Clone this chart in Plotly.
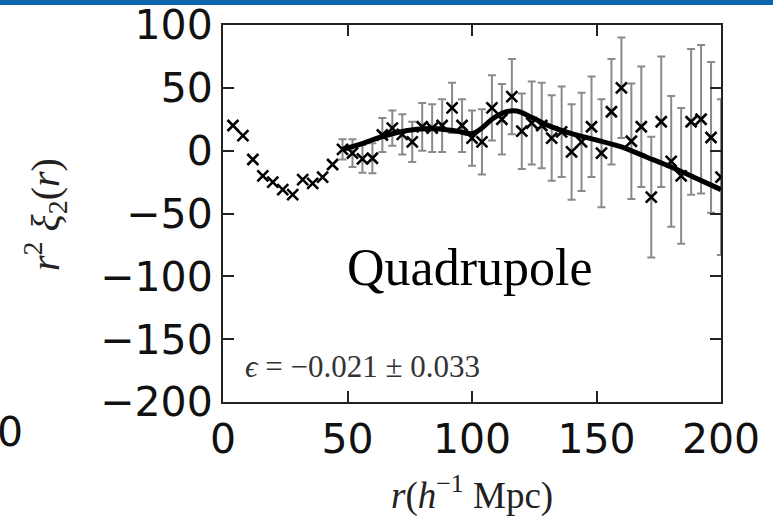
"""Quadrupole correlation function r^2 xi_2(r) with model curve"""
import plotly.graph_objects as go

# points at small r (drawn without error bars)
r_small = [4, 8, 12, 16, 20, 24, 28, 32, 36, 40, 44]
xi_small = [20, 12, -7, -20, -25, -31, -35, -23, -26, -21, -11]

# points with error bars
r_pts = [48, 52, 56, 60, 64, 68, 72, 76, 80, 84, 88, 92, 96, 100, 104, 108, 112,
         116, 120, 124, 128, 132, 136, 140, 144, 148, 152, 156, 160, 164, 168,
         172, 176, 180, 184, 188, 192, 196, 200]
xi_pts = [1, -2, -6.5, -6, 12.5, 18, 13, 7, 19, 18, 20, 34, 20, 10, 7, 34, 25,
          43, 15.5, 22, 20, 10, 15, -1, 7, 19, -2, 31, 50, 7.5, 19,
          -37, 23, -8.5, -20, 23, 25, 10.5, -21]
xi_err = [8, 11, 11, 12, 13.5, 14, 16, 16, 19, 19, 21, 20, 21, 22, 26, 26, 28,
          30, 30, 33, 34, 34, 36, 38, 39, 40, 43, 42, 40, 46, 48,
          48, 52, 52, 54, 58, 59, 60, 62]

# model curve
r_model = [48, 55, 62, 70, 78, 86, 94, 100, 104, 108, 113, 118, 124, 130, 140,
           150, 160, 170, 180, 190, 200]
xi_model = [1, 5, 10, 14.5, 17, 17.5, 15.5, 13.5, 18, 25, 30.5, 31.5, 26.5, 20.5, 13.5,
            8.5, 3, -5, -13, -22, -31]

x_ticks = [0, 50, 100, 150, 200]
y_ticks = [-200, -150, -100, -50, 0, 50, 100]

W, H = 773, 517
L, R, T, B = 223, 52, 25, 115
PW, PH = W - L - R, H - T - B

marker = dict(symbol="x-thin", size=11, color="black",
              line=dict(color="black", width=2.6))

fig = go.Figure()
fig.add_trace(go.Scatter(x=r_small, y=xi_small, mode="markers", marker=marker))
fig.add_trace(go.Scatter(
    x=r_pts, y=xi_pts, mode="markers", marker=marker,
    error_y=dict(type="data", array=xi_err, visible=True,
                 color="#8a8a8a", thickness=2, width=4),
))
fig.add_trace(go.Scatter(x=r_model, y=xi_model, mode="lines",
                         line=dict(color="black", width=5, shape="spline", smoothing=0.8)))

axis_common = dict(
    showline=True, linecolor="#222", linewidth=2, mirror="allticks",
    ticks="inside", ticklen=11, tickwidth=1.5, tickcolor="#222",
    showgrid=False, zeroline=False, automargin=False,
    tickfont=dict(family="DejaVu Sans", size=41, color="#111"),
)
fig.update_xaxes(range=[0, 200], tickvals=x_ticks, **axis_common)
fig.update_yaxes(range=[-200, 100], tickvals=y_ticks, **axis_common)

# axis titles placed as annotations
fig.add_annotation(xref="paper", yref="paper", x=0.5, y=-(493 - T - PH) / PH,
                   text="<i>r</i>(<i>h</i><sup>−1</sup> Mpc)", showarrow=False,
                   xanchor="center", yanchor="middle",
                   font=dict(family="Liberation Serif", size=37, color="#222"))
fig.add_annotation(xref="paper", yref="paper", x=-(L - 45) / PW, y=1 - (215 - T) / PH,
                   text="<i>r</i><sup>2</sup> <i>ξ</i><sub>2</sub>(<i>r</i>)", showarrow=False,
                   textangle=-90, xanchor="center", yanchor="middle",
                   font=dict(family="Liberation Serif", size=40, color="#222"))

# slide header band and cropped neighbour label
fig.add_shape(type="rect", xref="paper", yref="paper",
              x0=-L / PW, x1=(W - L) / PW,
              y0=1 + (T - 5) / PH, y1=1 + T / PH,
              fillcolor="#0a66ae", line_width=0, layer="above")
fig.add_annotation(xref="paper", yref="paper", x=-(L - 10) / PW, y=-30 / PH,
                   text="0", showarrow=False, xanchor="center", yanchor="middle",
                   font=dict(family="DejaVu Sans", size=41, color="#111"))

fig.add_annotation(x=99, y=-93, text="Quadrupole", showarrow=False,
                   xanchor="center", yanchor="middle",
                   font=dict(family="Liberation Serif", size=52, color="black"))
fig.add_annotation(x=8, y=-172, text="<i>ϵ</i> = −0.021 ± 0.033", showarrow=False,
                   xanchor="left", yanchor="middle",
                   font=dict(family="Liberation Serif", size=31, color="#333"))

fig.update_layout(
    width=W, height=H, showlegend=False,
    margin=dict(l=L, r=R, t=T, b=B),
    plot_bgcolor="white", paper_bgcolor="white",
)
fig.write_html("out.html", config={"displayModeBar": False},
               post_script="document.body.style.margin='0';")
